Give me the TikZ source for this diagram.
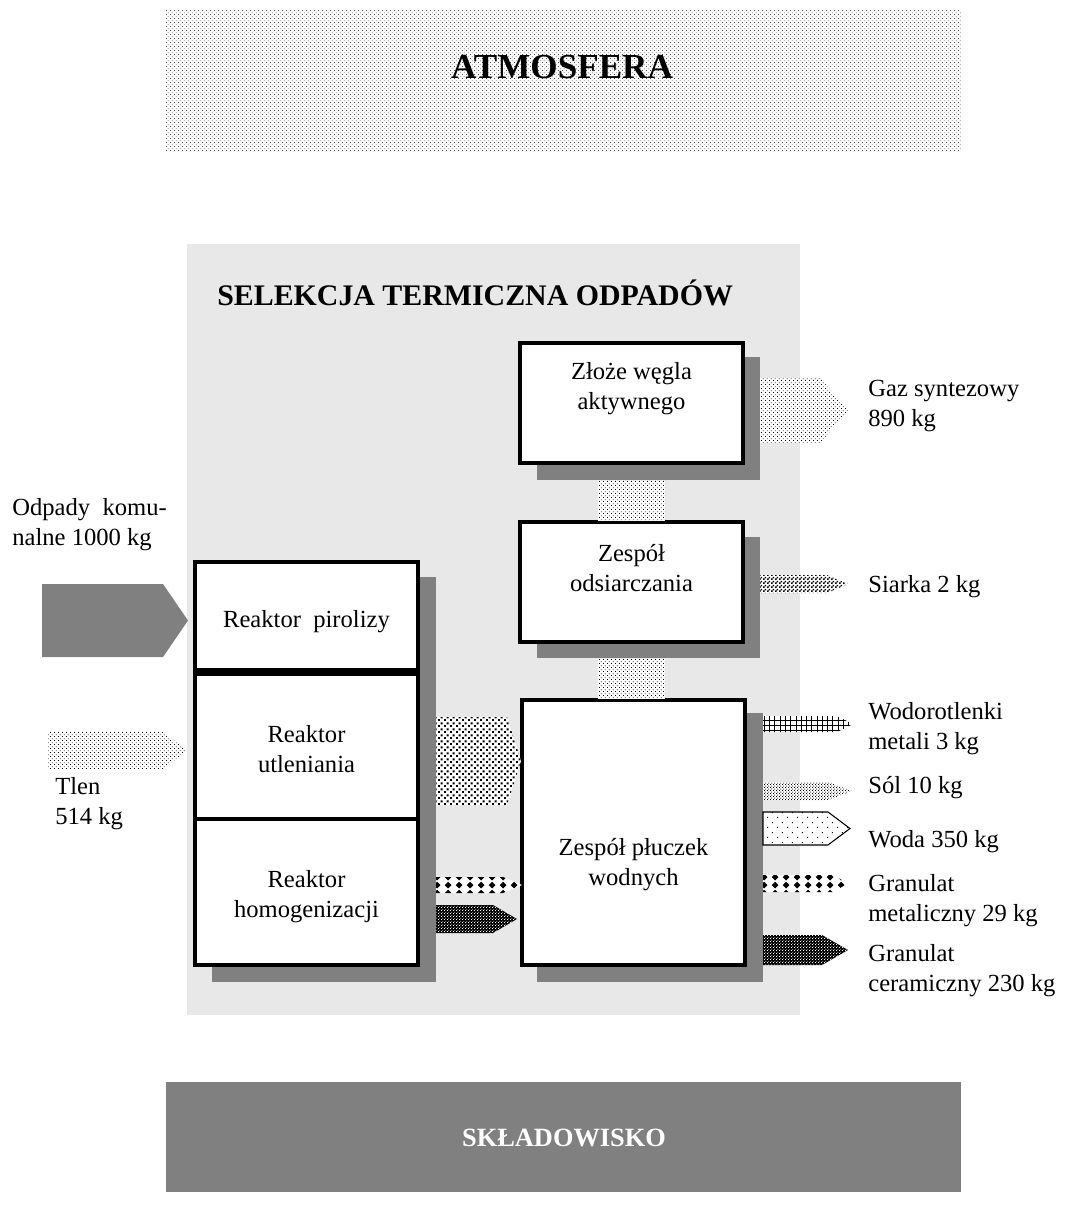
\documentclass[tikz,border=0pt]{standalone}
\usepackage{fontspec}
\setmainfont{Liberation Serif}
\usetikzlibrary{patterns}

\definecolor{panelgray}{HTML}{E8E8E8}
\definecolor{shadowgray}{HTML}{808080}

\pgfdeclarepatternformonly{finedots}{\pgfpointorigin}{\pgfpoint{2.2pt}{2.2pt}}{\pgfpoint{2.2pt}{2.2pt}}{%
  \pgfpathrectangle{\pgfpointorigin}{\pgfpoint{.5pt}{.5pt}}%
  \pgfpathrectangle{\pgfpoint{1.1pt}{1.1pt}}{\pgfpoint{.5pt}{.5pt}}%
  \pgfusepath{fill}}
\pgfdeclarepatternformonly{meddots}{\pgfpointorigin}{\pgfpoint{1.6pt}{1.6pt}}{\pgfpoint{1.6pt}{1.6pt}}{%
  \pgfpathrectangle{\pgfpointorigin}{\pgfpoint{.55pt}{.55pt}}%
  \pgfpathrectangle{\pgfpoint{.8pt}{.8pt}}{\pgfpoint{.55pt}{.55pt}}%
  \pgfusepath{fill}}
\pgfdeclarepatternformonly{bigdots}{\pgfpointorigin}{\pgfpoint{3.2pt}{3.2pt}}{\pgfpoint{3.2pt}{3.2pt}}{%
  \pgfpathrectangle{\pgfpointorigin}{\pgfpoint{1.2pt}{1.2pt}}%
  \pgfpathrectangle{\pgfpoint{1.6pt}{1.6pt}}{\pgfpoint{1.2pt}{1.2pt}}%
  \pgfusepath{fill}}
\pgfdeclarepatternformonly{sparsedots}{\pgfpointorigin}{\pgfpoint{5.6pt}{5.6pt}}{\pgfpoint{5.6pt}{5.6pt}}{%
  \pgfpathrectangle{\pgfpointorigin}{\pgfpoint{.6pt}{.6pt}}%
  \pgfpathrectangle{\pgfpoint{2.8pt}{2.8pt}}{\pgfpoint{.6pt}{.6pt}}%
  \pgfusepath{fill}}
\pgfdeclarepatternformonly{checks}{\pgfpointorigin}{\pgfpoint{2pt}{2pt}}{\pgfpoint{2pt}{2pt}}{%
  \pgfpathrectangle{\pgfpointorigin}{\pgfpoint{1pt}{1pt}}%
  \pgfpathrectangle{\pgfpoint{1pt}{1pt}}{\pgfpoint{1pt}{1pt}}%
  \pgfusepath{fill}}
\pgfdeclarepatternformonly{diamonds}{\pgfpointorigin}{\pgfpoint{6pt}{4.4pt}}{\pgfpoint{6pt}{4.4pt}}{%
  \pgfpathmoveto{\pgfpoint{3pt}{.3pt}}%
  \pgfpathlineto{\pgfpoint{5pt}{2.2pt}}%
  \pgfpathlineto{\pgfpoint{3pt}{4.1pt}}%
  \pgfpathlineto{\pgfpoint{1pt}{2.2pt}}%
  \pgfpathclose
  \pgfusepath{fill}}

\begin{document}
\begin{tikzpicture}[x=0.02cm,y=-0.02cm]
\tikzstyle{every node}+=[inner sep=0pt, font=\fontsize{14}{17}\selectfont]
\tikzstyle{box}=[draw=black, fill=white, line width=2pt]
\tikzstyle{boxshadow}=[fill=shadowgray]
\tikzstyle{flow}=[preaction={fill=white}]
\tikzstyle{outtext}=[anchor=north west, align=left]
\useasboundingbox (0,0) rectangle (1065,1221);
% atmosfera
\fill [pattern=finedots, pattern color=black!70] (165,10) rectangle (961,150);
\node (atm) at (562,78) [anchor=base, font=\fontsize{20}{24}\selectfont\bfseries] {ATMOSFERA};
% panel
\fill [panelgray] (187,244) rectangle (800,1015);
\node (title) at (217,305) [anchor=base west, font=\fontsize{17}{20}\selectfont\bfseries] {SELEKCJA TERMICZNA ODPADÓW};
\fill [boxshadow] (212,577) rectangle (436,982);
\fill [boxshadow] (537,357) rectangle (760,480);
\fill [boxshadow] (537,537) rectangle (760,658);
\fill [boxshadow] (537,713) rectangle (763,982);
\draw [box] (195,562) rectangle (418,670);
\node (pirol) at (306.5,622) {Reaktor~~pirolizy};
\draw [box] (195,674) rectangle (418,819);
\node (utlen) at (306.5,749.5) [align=center] {Reaktor\\utleniania};
\draw [box] (195,819) rectangle (418,965);
\node (homog) at (306.5,896.5) [align=center] {Reaktor\\homogenizacji};
\draw [box] (520,343) rectangle (743,463);
\node (wegiel) at (631.5,388.5) [align=center] {Złoże węgla\\aktywnego};
\draw [box] (520,522) rectangle (743,642);
\node (odsiar) at (631.5,568) [align=center] {Zespół\\odsiarczania};
\draw [box] (522,700) rectangle (745,965);
\node (pluczki) at (633.5,865) [align=center] {Zespół płuczek\\wodnych};
\fill [flow, pattern=finedots] (598,481) rectangle (665,521);
\fill [flow, pattern=finedots] (598,659) rectangle (665,699);
% inputs
\fill [shadowgray] (42,584) -- (163,584) -- (188,620.5) -- (163,657) -- (42,657) -- cycle;
\node (odpady) at (12,498) [outtext] {Odpady~ komu-\\nalne 1000 kg};
\fill [flow, pattern=finedots] (48,732) -- (163,732) -- (187,750.5) -- (163,769) -- (48,769) -- cycle;
\node (tlen) at (55,777) [outtext] {Tlen\\514 kg};
% between reactors and scrubbers
\fill [flow, pattern=bigdots] (436,717) -- (507,717) -- (521,761) -- (507,805) -- (436,805) -- cycle;
\fill [flow, pattern=diamonds] (436,877) -- (503,877) -- (522,885) -- (503,893) -- (436,893) -- cycle;
\fill [pattern=meddots, pattern color=white, preaction={fill=black}] (436,905) -- (493,905) -- (517,919) -- (493,933) -- (436,933) -- cycle;
% outputs
\fill [flow, pattern=finedots] (760,378) -- (820,378) -- (848,410.5) -- (820,443) -- (760,443) -- cycle;
\node (gaz) at (868,380) [outtext] {Gaz syntezowy\\890 kg};
\fill [flow, pattern=checks] (760,575) -- (827,575) -- (848,584) -- (827,593) -- (760,593) -- cycle;
\node (siarka) at (868,592) [anchor=base west] {Siarka 2 kg};
\fill [flow, pattern=grid] (763,716) -- (837,716) -- (853,724) -- (837,732) -- (763,732) -- cycle;
\node (wodor) at (868,702) [outtext] {Wodorotlenki\\metali 3 kg};
\fill [flow, pattern=meddots] (763,782) -- (828,782) -- (852,791) -- (828,800) -- (763,800) -- cycle;
\node (sol) at (868,793) [anchor=base west] {Sól 10 kg};
\draw [flow, pattern=sparsedots, line width=.6pt] (763,812) -- (828,812) -- (850,828.5) -- (828,845) -- (763,845) -- cycle;
\node (woda) at (868,847) [anchor=base west] {Woda 350 kg};
\fill [flow, pattern=diamonds] (763,875) -- (833,875) -- (848,883.5) -- (833,892) -- (763,892) -- cycle;
\node (granmet) at (868,874) [outtext] {Granulat\\metaliczny 29 kg};
\fill [pattern=meddots, pattern color=white, preaction={fill=black}] (763,935) -- (822,935) -- (848,950) -- (822,965) -- (763,965) -- cycle;
\node (grancer) at (868,944) [outtext] {Granulat\\ceramiczny 230 kg};
% skladowisko
\fill [shadowgray] (166,1082) rectangle (961,1192);
\node (sklad) at (564,1146) [anchor=base, text=white, font=\fontsize{15}{18}\selectfont\bfseries] {SKŁADOWISKO};
\end{tikzpicture}
\end{document}
